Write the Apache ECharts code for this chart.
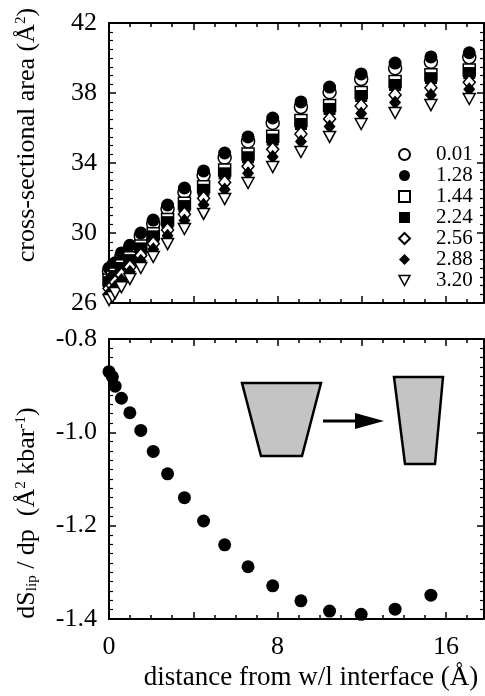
<!DOCTYPE html>
<html>
<head>
<meta charset="utf-8">
<script src="https://cdn.jsdelivr.net/npm/echarts@6/dist/echarts.min.js"></script>
<style>
  html, body { margin: 0; padding: 0; background: #fff; }
  #main { width: 485px; height: 696px; }
</style>
</head>
<body>
<div id="main"></div>
<script>
// distance from interface (upper panel has one more column than the lower one)
var xTop = [0, 0.16, 0.29, 0.59, 0.99, 1.51, 2.10, 2.78, 3.58, 4.49, 5.49, 6.60, 7.77, 9.11, 10.47, 11.97, 13.58, 15.28, 17.10];
var xSlope = [0, 0.16, 0.29, 0.59, 0.99, 1.51, 2.10, 2.78, 3.58, 4.49, 5.49, 6.60, 7.77, 9.11, 10.47, 11.97, 13.58, 15.28];

// cross-sectional area per pressure (kbar)
var pressures = ['0.01', '1.28', '1.44', '2.24', '2.56', '2.88', '3.20'];
var area001 = [27.82, 27.99, 28.13, 28.66, 29.11, 29.80, 30.53, 31.38, 32.34, 33.30, 34.31, 35.23, 36.29, 37.20, 38.05, 38.80, 39.42, 39.78, 40.04];
var area128 = [28.00, 28.17, 28.30, 28.86, 29.30, 30.00, 30.74, 31.60, 32.57, 33.55, 34.57, 35.49, 36.57, 37.49, 38.34, 39.09, 39.71, 40.06, 40.30];
var area144 = [27.32, 27.49, 27.66, 28.13, 28.59, 29.26, 29.96, 30.77, 31.70, 32.64, 33.60, 34.52, 35.53, 36.43, 37.29, 38.03, 38.66, 39.04, 39.32];
var area224 = [27.19, 27.36, 27.54, 28.00, 28.45, 29.12, 29.81, 30.62, 31.54, 32.47, 33.41, 34.33, 35.34, 36.23, 37.09, 37.83, 38.46, 38.85, 39.14];
var area256 = [26.83, 27.00, 27.19, 27.61, 28.06, 28.72, 29.39, 30.17, 31.07, 31.98, 32.89, 33.81, 34.78, 35.66, 36.52, 37.26, 37.89, 38.30, 38.61];
var area288 = [26.55, 26.72, 26.93, 27.31, 27.78, 28.42, 29.07, 29.84, 30.72, 31.61, 32.49, 33.41, 34.36, 35.23, 36.09, 36.83, 37.46, 37.89, 38.21];
var area320 = [26.17, 26.34, 26.57, 26.90, 27.37, 28.00, 28.63, 29.37, 30.23, 31.09, 31.94, 32.86, 33.77, 34.63, 35.49, 36.23, 36.86, 37.31, 37.66];

// dS_lip / dp
var dSdp = [-0.870, -0.881, -0.901, -0.927, -0.958, -0.996, -1.041, -1.089, -1.140, -1.190, -1.241, -1.288, -1.329, -1.361, -1.383, -1.390, -1.379, -1.349];

var xTicks = [0, 8, 16];

var FONT = 'Liberation Serif';
var myChart = echarts.init(document.getElementById('main'));

function pairs(xs, ys) {
  return xs.map(function (x, i) { return [x, ys[i]]; });
}

// one axis draws frame + long ticks, a second one the short ticks
function xAx(grid, pos, step, len, line, label) {
  return {
    type: 'value', gridIndex: grid, position: pos,
    min: 0, max: 17.8, interval: step,
    axisLine: { show: line, onZero: false, lineStyle: { color: '#000', width: 2 } },
    axisTick: { show: true, inside: true, length: len, lineStyle: { color: '#000', width: 1.5 } },
    axisLabel: {
      show: !!label, margin: 15, color: '#000', fontSize: 26, fontFamily: FONT,
      showMaxLabel: false,
      formatter: function (v) { return xTicks.indexOf(v) >= 0 ? String(v) : ''; }
    },
    splitLine: { show: false }
  };
}

function yAx(grid, pos, lo, hi, step, split, label, digits) {
  return {
    type: 'value', gridIndex: grid, position: pos,
    min: lo, max: hi, interval: step,
    axisLine: { show: true, onZero: false, lineStyle: { color: '#000', width: 2 } },
    axisTick: { show: true, inside: true, length: 7, lineStyle: { color: '#000', width: 1.5 } },
    minorTick: { show: true, splitNumber: split, length: 4, lineStyle: { color: '#000', width: 1.2 } },
    axisLabel: {
      show: label, margin: 12, color: '#000', fontSize: 26, fontFamily: FONT,
      formatter: function (v) { return v.toFixed(digits); }
    },
    splitLine: { show: false },
    minorSplitLine: { show: false }
  };
}

var openStyle = { color: '#fff', borderColor: '#000', borderWidth: 1.5, opacity: 1 };
var fillStyle = { color: '#000', borderColor: '#000', borderWidth: 0, opacity: 1 };

var areaSets = [
  { name: '0.01', data: area001, symbol: 'circle', size: 13, style: openStyle },
  { name: '1.28', data: area128, symbol: 'circle', size: 13, style: fillStyle },
  { name: '1.44', data: area144, symbol: 'rect', size: 12, style: openStyle },
  { name: '2.24', data: area224, symbol: 'rect', size: 12, style: fillStyle },
  { name: '2.56', data: area256, symbol: 'diamond', size: [12, 14], style: openStyle },
  { name: '2.88', data: area288, symbol: 'diamond', size: [12, 14], style: fillStyle },
  { name: '3.20', data: area320, symbol: 'triangle', size: [12, 11], rotate: 180, style: openStyle }
];

var series = areaSets.map(function (s) {
  return {
    name: s.name, type: 'scatter', xAxisIndex: 0, yAxisIndex: 0,
    symbol: s.symbol, symbolSize: s.size, symbolRotate: s.rotate || 0,
    itemStyle: s.style,
    data: pairs(xTop, s.data)
  };
});
series.push({
  name: 'slope', type: 'scatter', xAxisIndex: 4, yAxisIndex: 2,
  symbol: 'circle', symbolSize: 13,
  itemStyle: fillStyle,
  data: pairs(xSlope, dSdp)
});

// legend: the down-pointing triangle needs its own icon
var legendData = pressures.map(function (p) {
  if (p === '3.20') {
    return { name: p, icon: 'path://M0,0 L12,0 L6,11 Z', itemStyle: openStyle };
  }
  return { name: p };
});

var supRich = {
  sup: { fontSize: 15, fontFamily: FONT, fill: '#000', verticalAlign: 'top', padding: [0, 0, 10, 0] },
  sub: { fontSize: 15, fontFamily: FONT, fill: '#000', verticalAlign: 'bottom', padding: [10, 0, 0, 0] }
};

var trapStyle = { fill: '#c4c4c4', stroke: '#000', lineWidth: 2.5 };

option = {
  animation: false,
  backgroundColor: '#fff',
  grid: [
    { left: 109, top: 23, width: 375, height: 280, outerBoundsMode: 'none' },
    { left: 109, top: 339, width: 375, height: 280, outerBoundsMode: 'none' }
  ],
  xAxis: [
    xAx(0, 'bottom', 4, 7, true, false),
    xAx(0, 'bottom', 1, 4, false, false),
    xAx(0, 'top', 4, 7, true, false),
    xAx(0, 'top', 1, 4, false, false),
    xAx(1, 'bottom', 4, 7, true, true),
    xAx(1, 'bottom', 1, 4, false, false),
    xAx(1, 'top', 4, 7, true, false),
    xAx(1, 'top', 1, 4, false, false)
  ],
  yAxis: [
    yAx(0, 'left', 26, 42, 4, 8, true, 0),
    yAx(0, 'right', 26, 42, 4, 8, false, 0),
    yAx(1, 'left', -1.4, -0.8, 0.2, 10, true, 1),
    yAx(1, 'right', -1.4, -0.8, 0.2, 10, false, 1)
  ],
  legend: {
    data: legendData,
    orient: 'vertical',
    left: 393, top: 139,
    itemWidth: 11, itemHeight: 11, itemGap: 0,
    selectedMode: false,
    textStyle: { color: '#000', fontSize: 21, fontFamily: FONT, lineHeight: 20.6, padding: [0, 0, 0, 21] }
  },
  graphic: [
    {
      type: 'text', x: 27, y: 135, rotation: Math.PI / 2,
      style: {
        text: 'cross-sectional area (Å{sup|2})',
        font: '26px "Liberation Serif"', fill: '#000',
        align: 'center', verticalAlign: 'middle',
        textAlign: 'center', textVerticalAlign: 'middle',
        rich: supRich
      }
    },
    {
      type: 'text', x: 27, y: 513, rotation: Math.PI / 2,
      style: {
        text: 'dS{sub|lip} / dp  (Å{sup|2} kbar{sup|-1})',
        font: '26px "Liberation Serif"', fill: '#000',
        align: 'center', verticalAlign: 'middle',
        textAlign: 'center', textVerticalAlign: 'middle',
        rich: supRich
      }
    },
    {
      type: 'text', x: 311, y: 678,
      style: {
        text: 'distance from w/l interface (Å)',
        font: '27px "Liberation Serif"', fill: '#000',
        align: 'center', verticalAlign: 'middle',
        textAlign: 'center', textVerticalAlign: 'middle'
      }
    },
    // inset sketch: lipid shape before / after compression
    { type: 'polygon', shape: { points: [[242, 383], [321, 383], [302, 456], [261, 456]] }, style: trapStyle },
    { type: 'polygon', shape: { points: [[394, 377], [443, 377], [435, 464], [405, 464]] }, style: trapStyle },
    { type: 'line', shape: { x1: 323, y1: 421, x2: 358, y2: 421 }, style: { stroke: '#000', lineWidth: 3 } },
    { type: 'polygon', shape: { points: [[355, 413], [384, 421], [355, 429]] }, style: { fill: '#000' } }
  ],
  series: series
};
myChart.setOption(option, true);
</script>
</body>
</html>
